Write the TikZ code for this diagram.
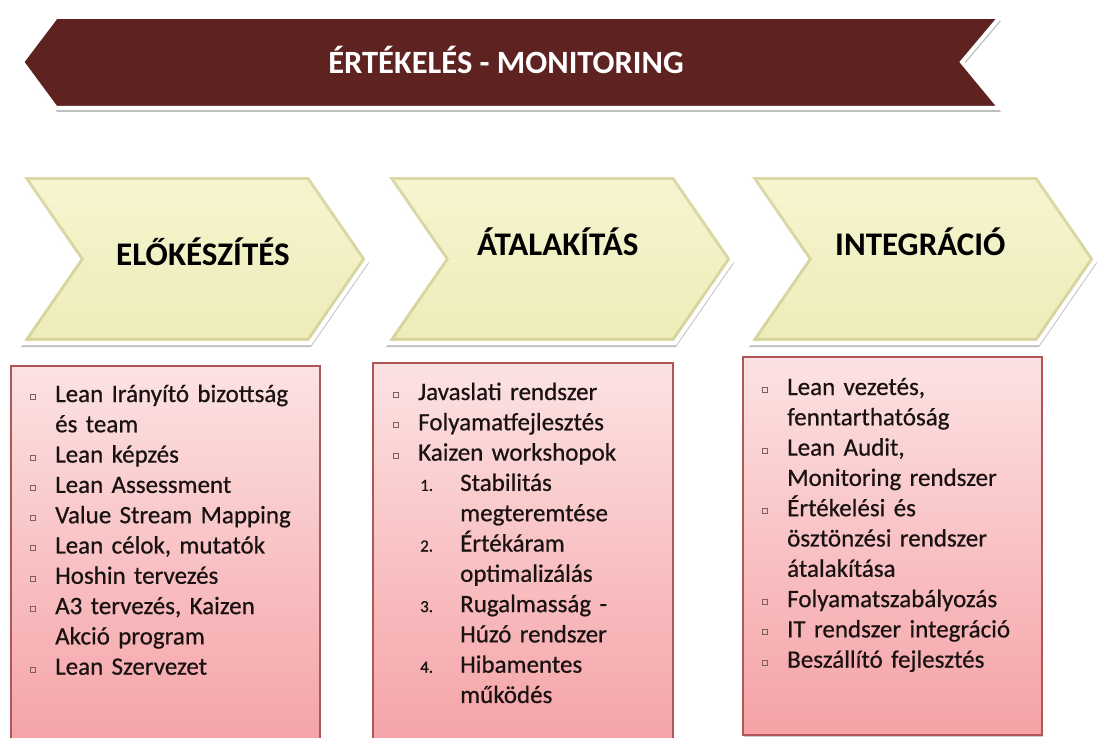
\documentclass[tikz,border=0pt]{standalone}
\usepackage{fontspec}
\setmainfont{Carlito}
\newfontfamily\bodyfont[FakeBold=0.6]{Carlito}
\usetikzlibrary{shadows}

\definecolor{bannerred}{RGB}{94,34,33}
\definecolor{chevtop}{RGB}{246,245,208}
\definecolor{chevbottom}{RGB}{238,236,184}
\definecolor{chevedge}{RGB}{196,194,132}
\definecolor{boxtop}{RGB}{252,226,226}
\definecolor{boxbottom}{RGB}{245,162,166}
\definecolor{boxline}{RGB}{176,86,86}
\definecolor{bulletcol}{RGB}{125,95,95}
\definecolor{textcol}{RGB}{26,18,18}

% list helpers
\newcommand{\sqbul}{\textcolor{bulletcol}{\fboxsep=0pt\fboxrule=1pt\fbox{\rule{0pt}{4pt}\hspace{4pt}}}}
\newcommand{\bitem}[1]{\makebox[25pt][l]{\raisebox{3pt}{\sqbul}}#1}
\newcommand{\citem}[1]{\hspace*{25pt}#1}
\newcommand{\nitem}[2]{\hspace*{27pt}\makebox[40pt][l]{\fontsize{17}{20}\selectfont #1}#2}
\newcommand{\ncitem}[1]{\hspace*{67pt}#1}

\begin{document}
\begin{tikzpicture}[x=1pt, y=-1pt,
					banner/.style={fill=bannerred, draw=white, line width=4pt,
						drop shadow={shadow xshift=1pt, shadow yshift=-4pt, opacity=.25, fill=black}},
					chevron/.style={top color=chevtop, bottom color=chevbottom, draw=white, line width=4pt,
						drop shadow={shadow xshift=1pt, shadow yshift=-4pt, opacity=.25, fill=black}},
					chevpath/.style={insert path={(#1,175) -- ++(290,0) -- ++(58,84) -- ++(-58,84) -- ++(-290,0) -- ++(58,-84) -- cycle}},
					phase/.style={font=\fontsize{33}{38}\selectfont\bfseries, text=black, anchor=base west, inner sep=0pt},
					listbox/.style={top color=boxtop, bottom color=boxbottom, draw=boxline, line width=1.2pt,
						drop shadow={shadow xshift=1pt, shadow yshift=-2pt, opacity=.2, fill=black}},
					listtext/.style={font=\bodyfont\fontsize{25}{30.3}\selectfont, text=textcol, anchor=base west,
						inner sep=0pt, text width=300pt, align=left}]

  \useasboundingbox (0,0) rectangle (1104,738);

  % banner
  \draw[banner] (56,17) -- (1000,17) -- (962,62) -- (1000,108) -- (56,108) -- (22,62) -- cycle;
  \node[font=\fontsize{32.5}{38}\selectfont\bfseries, text=white, anchor=base, inner sep=0pt]
    (monitor) at (506,74) {ÉRTÉKELÉS - MONITORING};

  % chevrons
  \foreach \x in {20,385,748} {
    \draw[chevron, chevpath=\x];
    \begin{scope}
      \clip[chevpath=\x];
      \draw[chevedge, line width=10pt, opacity=.55, chevpath=\x];
    \end{scope}
    \draw[white, line width=4pt, line join=miter, chevpath=\x];
  }
  \node[phase] (prep)  at (116,266) {ELŐKÉSZÍTÉS};
  \node[phase] (trans) at (477,256) {ÁTALAKÍTÁS};
  \node[phase] (integ) at (835,256) {INTEGRÁCIÓ};

  % boxes
  \draw[listbox] (11,366) rectangle (320,748);
  \draw[listbox] (373,363) rectangle (673,748);
  \draw[listbox] (743,357) rectangle (1042,735);

  \node[listtext] (list1) at (30,402) {%
    \bitem{Lean Irányító bizottság}\\
    \citem{és team}\\
    \bitem{Lean képzés}\\
    \bitem{Lean Assessment}\\
    \bitem{Value Stream Mapping}\\
    \bitem{Lean célok, mutatók}\\
    \bitem{Hoshin tervezés}\\
    \bitem{A3 tervezés, Kaizen}\\
    \citem{Akció program}\\
    \bitem{Lean Szervezet}};

  \node[listtext] (list2) at (393,400) {%
    \bitem{Javaslati rendszer}\\
    \bitem{Folyamatfejlesztés}\\
    \bitem{Kaizen workshopok}\\
    \nitem{1.}{Stabilitás}\\
    \ncitem{megteremtése}\\
    \nitem{2.}{Értékáram}\\
    \ncitem{optimalizálás}\\
    \nitem{3.}{Rugalmasság -}\\
    \ncitem{Húzó rendszer}\\
    \nitem{4.}{Hibamentes}\\
    \ncitem{működés}};

  \node[listtext] (list3) at (762,395) {%
    \bitem{Lean vezetés,}\\
    \citem{fenntarthatóság}\\
    \bitem{Lean Audit,}\\
    \citem{Monitoring rendszer}\\
    \bitem{Értékelési és}\\
    \citem{ösztönzési rendszer}\\
    \citem{átalakítása}\\
    \bitem{Folyamatszabályozás}\\
    \bitem{IT rendszer integráció}\\
    \bitem{Beszállító fejlesztés}};
\end{tikzpicture}
\end{document}
